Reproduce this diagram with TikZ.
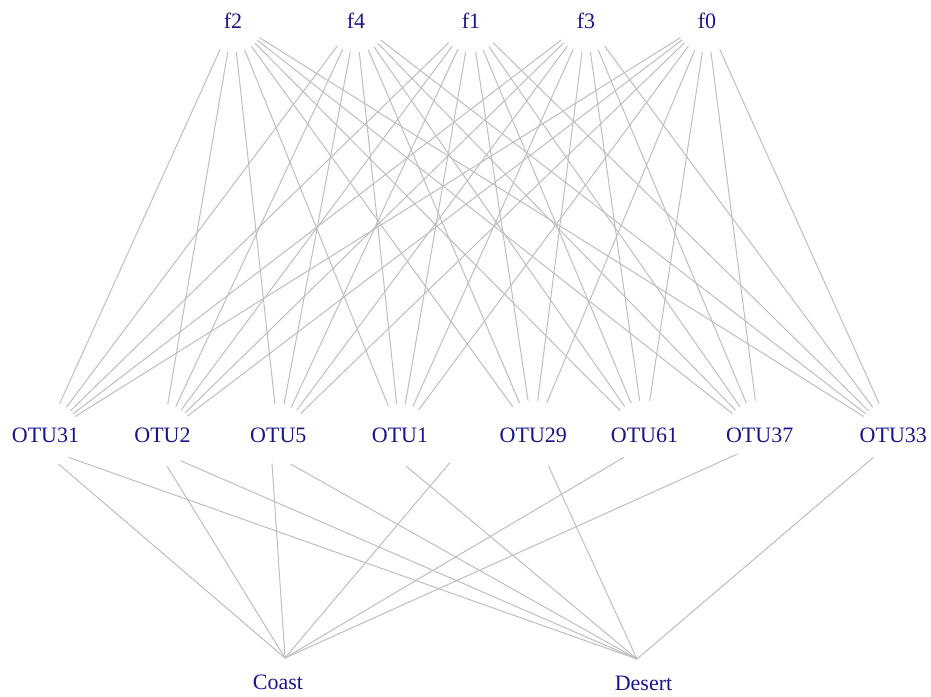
\documentclass[tikz,border=0pt]{standalone}
\usepackage{fontspec}
\setmainfont{Liberation Serif}
\definecolor{edgegray}{RGB}{190,190,190}
\definecolor{labelblue}{RGB}{25,20,140}
\begin{document}
\begin{tikzpicture}[x=1pt,y=-1pt,
  vtx/.style={circle, minimum size=62pt, inner sep=0pt, text=labelblue,
    font=\fontsize{22}{26}\selectfont},
  lbl/.style={inner sep=0pt, text=labelblue, font=\fontsize{22}{26}\selectfont},
  link/.style={draw=edgegray, line width=1pt}]
\useasboundingbox (0,0) rectangle (931,696);

% factor nodes (top row)
\node[vtx] (f2) at (233,21) {f2};
\node[vtx] (f4) at (356,21) {f4};
\node[vtx] (f1) at (471,21) {f1};
\node[vtx] (f3) at (586,21) {f3};
\node[vtx] (f0) at (707,21) {f0};

% OTU nodes (middle row)
\node[vtx] (otu31) at (45.5,435) {OTU31};
\node[vtx] (otu2)  at (162.5,435) {OTU2};
\node[vtx] (otu5)  at (278.3,435) {OTU5};
\node[vtx] (otu1)  at (400,435) {OTU1};
\node[vtx] (otu29) at (533.3,435) {OTU29};
\node[vtx] (otu61) at (644.5,435) {OTU61};
\node[vtx] (otu37) at (759.7,435) {OTU37};
\node[vtx] (otu33) at (893.3,435) {OTU33};

% every factor is linked to every OTU
\foreach \f in {f2,f4,f1,f3,f0}
  \foreach \o in {otu31,otu2,otu5,otu1,otu29,otu61,otu37,otu33}
    \draw[link] (\f) -- (\o);

% habitat nodes (bottom row)
\coordinate (coast) at (285,658);
\coordinate (desert) at (637,659);
\node[lbl] (coastname) at (278,682) {Coast};
\node[lbl] (desertname) at (643.5,683) {Desert};

% start points of the OTU-to-habitat links
\coordinate (s31c) at (58.5,464);
\coordinate (s31d) at (68.5,457.3);
\coordinate (s2c)  at (167,466);
\coordinate (s2d)  at (180.5,460.7);
\coordinate (s5c)  at (272,463.5);
\coordinate (s5d)  at (290.5,464);
\coordinate (s1d)  at (406,466);
\coordinate (s1c)  at (450,462.5);
\coordinate (s29d) at (548.5,466);
\coordinate (s61c) at (624,457.3);
\coordinate (s37c) at (737.5,454);
\coordinate (s33d) at (873.5,457.3);

\foreach \s in {s31c,s2c,s5c,s1c,s61c,s37c}
  \draw[link] (\s) -- (coast);
\foreach \s in {s31d,s2d,s5d,s1d,s29d,s33d}
  \draw[link] (\s) -- (desert);
\end{tikzpicture}
\end{document}
